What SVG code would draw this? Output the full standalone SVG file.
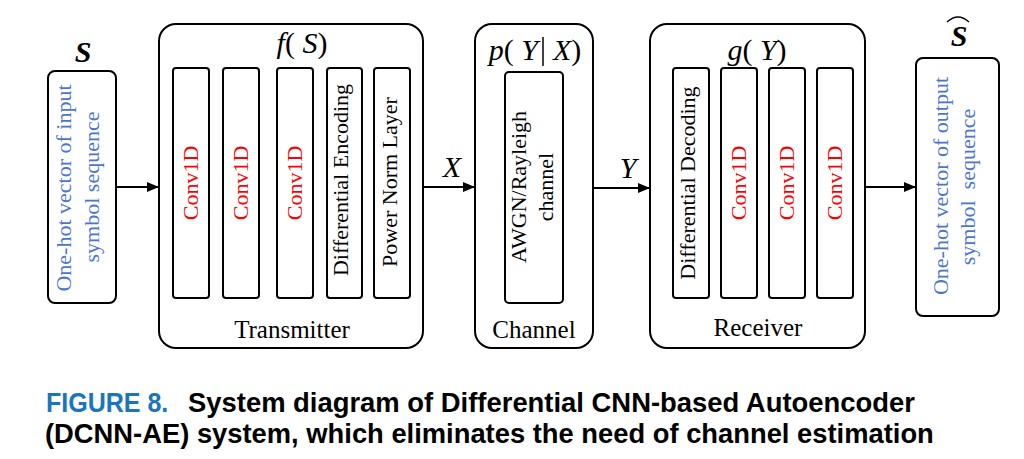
<svg xmlns="http://www.w3.org/2000/svg" width="1024" height="459" viewBox="0 0 1024 459">
<style>
.box{fill:#fff;stroke:#000;stroke-width:2}
.t{font-family:"Liberation Serif","Times New Roman",serif;font-size:22px;fill:#000}
.blue{fill:#4a76d0}
.red{fill:#ff0000}
.lab{font-family:"Liberation Serif","Times New Roman",serif;font-size:25px;fill:#000}
.math{font-family:"Liberation Serif","Times New Roman",serif;font-size:30px;fill:#000}
.it{font-style:italic}
.cap{font-family:"Liberation Sans",Arial,sans-serif;font-weight:bold;font-size:27px;fill:#000}
.conn{stroke:#000;stroke-width:2;fill:none}
</style>
<defs>
<marker id="ah" markerUnits="userSpaceOnUse" markerWidth="12" markerHeight="10" refX="12" refY="5" orient="auto">
<path d="M0,0 L12,5 L0,10 z" fill="#000"/>
</marker>
</defs>
<rect width="1024" height="459" fill="#fff"/>

<g id="input">
<rect class="box" x="48" y="71" width="68" height="232" rx="7"/>
<text class="t blue" text-anchor="middle" transform="translate(71,188) rotate(-90)">One-hot vector of input</text>
<text class="t blue" text-anchor="middle" transform="translate(99,187) rotate(-90)">symbol sequence</text>
<text class="math it" font-weight="bold" x="83" y="62" text-anchor="middle">S</text>
</g>

<g id="transmitter">
<rect class="box" x="159" y="24" width="264" height="324" rx="17"/>
<text class="math" x="302" y="53" text-anchor="middle" xml:space="preserve"><tspan class="it">f</tspan>( <tspan class="it">S</tspan>)</text>
<rect class="box" x="173" y="68" width="36" height="230" rx="3"/>
<rect class="box" x="223" y="68" width="36" height="230" rx="3"/>
<rect class="box" x="277" y="68" width="36" height="230" rx="3"/>
<rect class="box" x="327" y="68" width="35" height="230" rx="3"/>
<rect class="box" x="374" y="68" width="36" height="230" rx="3"/>
<text class="t red" text-anchor="middle" transform="translate(197.5,183) rotate(-90)">Conv1D</text>
<text class="t red" text-anchor="middle" transform="translate(247.5,183) rotate(-90)">Conv1D</text>
<text class="t red" text-anchor="middle" transform="translate(301.5,183) rotate(-90)">Conv1D</text>
<text class="t" text-anchor="middle" transform="translate(348,180) rotate(-90)">Differential Encoding</text>
<text class="t" text-anchor="middle" transform="translate(397,182) rotate(-90)">Power Norm Layer</text>
<text class="lab" x="292" y="338" text-anchor="middle">Transmitter</text>
</g>

<g id="channel">
<rect class="box" x="475" y="24" width="118" height="324" rx="17"/>
<text class="math" x="535" y="60" text-anchor="middle" xml:space="preserve"><tspan class="it">p</tspan>( <tspan class="it">Y</tspan>  <tspan class="it">X</tspan>)</text>
<line x1="543" y1="37" x2="543" y2="66" stroke="#000" stroke-width="1.5"/>
<rect class="box" x="505" y="72" width="58" height="231" rx="4"/>
<text class="t" text-anchor="middle" transform="translate(526,187) rotate(-90)">AWGN/Rayleigh</text>
<text class="t" text-anchor="middle" transform="translate(553,187) rotate(-90)">channel</text>
<text class="lab" x="534" y="338" text-anchor="middle">Channel</text>
</g>

<g id="receiver">
<rect class="box" x="650" y="24" width="215" height="324" rx="17"/>
<text class="math" x="757" y="60" text-anchor="middle" xml:space="preserve"><tspan class="it">g</tspan>( <tspan class="it">Y</tspan>)</text>
<rect class="box" x="673" y="68" width="36" height="230" rx="3"/>
<rect class="box" x="721" y="68" width="36" height="230" rx="3"/>
<rect class="box" x="769" y="68" width="36" height="230" rx="3"/>
<rect class="box" x="817" y="68" width="36" height="230" rx="3"/>
<text class="t" text-anchor="middle" transform="translate(695,183) rotate(-90)">Differential Decoding</text>
<text class="t red" text-anchor="middle" transform="translate(745.5,183) rotate(-90)">Conv1D</text>
<text class="t red" text-anchor="middle" transform="translate(793.5,183) rotate(-90)">Conv1D</text>
<text class="t red" text-anchor="middle" transform="translate(841.5,183) rotate(-90)">Conv1D</text>
<text class="lab" x="758" y="336" text-anchor="middle">Receiver</text>
</g>

<g id="output">
<rect class="box" x="916" y="58" width="83" height="258" rx="7"/>
<text class="t blue" text-anchor="middle" transform="translate(948,186) rotate(-90)">One-hot vector of output</text>
<text class="t blue" text-anchor="middle" transform="translate(975,187) rotate(-90)" xml:space="preserve">symbol  sequence</text>
<text class="math it" font-weight="bold" x="959" y="46" text-anchor="middle">S</text>
<path d="M947,22 Q958,12 969,22" fill="none" stroke="#000" stroke-width="1.3"/>
</g>

<g id="connectors">
<line class="conn" x1="116" y1="187" x2="159" y2="187" marker-end="url(#ah)"/>
<line class="conn" x1="423" y1="187" x2="475" y2="187" marker-end="url(#ah)"/>
<line class="conn" x1="593" y1="188" x2="650" y2="188" marker-end="url(#ah)"/>
<line class="conn" x1="865" y1="187" x2="916" y2="187" stroke-width="1.5" marker-end="url(#ah)"/>
<text class="math it" font-size="36" x="452" y="177" text-anchor="middle">X</text>
<text class="math it" font-size="36" x="628" y="178" text-anchor="middle">Y</text>
</g>

<g id="caption">
<text class="cap" transform="translate(46,412) scale(0.88,1)" style="fill:#1b75bb" textLength="139" lengthAdjust="spacingAndGlyphs">FIGURE 8.</text>
<text class="cap" transform="translate(188,412) scale(0.88,1)" textLength="826" lengthAdjust="spacingAndGlyphs">System diagram of Differential CNN-based Autoencoder</text>
<text class="cap" transform="translate(45,443) scale(0.88,1)" textLength="1010" lengthAdjust="spacingAndGlyphs">(DCNN-AE) system, which eliminates the need of channel estimation</text>
</g>
</svg>
